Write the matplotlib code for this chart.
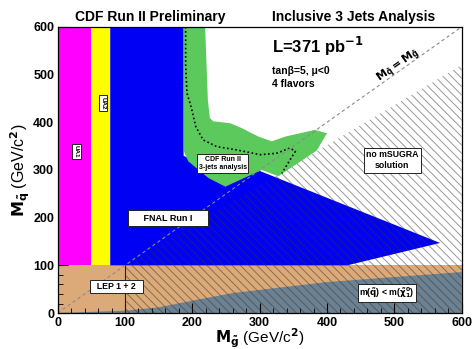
import matplotlib
matplotlib.use('Agg')
import matplotlib.pyplot as plt
from matplotlib.ticker import MultipleLocator

plt.rcParams['font.family'] = ['Liberation Sans', 'DejaVu Sans']
plt.rcParams['font.weight'] = 'bold'
plt.rcParams['mathtext.fontset'] = 'dejavusans'
plt.rcParams['mathtext.default'] = 'bf'
plt.rcParams['hatch.linewidth'] = 0.7

# excluded regions in the (M_gluino, M_squark) plane, GeV/c^2
lep_x = [0, 600, 600, 0]
lep_y = [0, 0, 100, 100]

nosol_low_x = [0, 100, 150, 200, 260, 400, 600, 600]
nosol_low_y = [0, 5, 12, 26, 42, 65, 86, 0]

ua1_x = [0, 50, 50, 0]
ua1_y = [100, 100, 600, 600]

ua2_x = [50, 78, 78, 50]
ua2_y = [100, 100, 600, 600]

fnal_x = [78, 78, 187, 187, 256, 300, 568, 430]
fnal_y = [100, 600, 600, 330, 276, 298, 147, 100]

cdf_x = [187, 219, 223, 226, 231, 256, 273, 298, 318, 338, 382, 400, 385, 328, 303, 249, 224, 194, 187]
cdf_y = [600, 600, 447, 409, 402, 398, 388, 370, 360, 370, 384, 377, 341, 287, 300, 265, 283, 318, 340]

# no mSUGRA solution (hatched)
nomsugra_x = [100, 100, 600, 600]
nomsugra_y = [0, 100, 520, 0]

# expected limit (dotted)
exp_x = [190, 190, 192, 198, 205, 216, 236, 266, 301, 325, 345, 353, 345, 333]
exp_y = [600, 520, 461, 433, 391, 363, 349, 342, 332, 335, 346, 339, 321, 293]

diag = [0, 600]

lep_line_x = [100, 100]
lep_line_y = [0, 100]

fig = plt.figure(figsize=(4.73, 3.49), dpi=100)
ax = fig.add_axes([0.122, 0.103, 0.854, 0.820])

ax.fill(lep_x, lep_y, color='#dcaa78', lw=0, zorder=1)
ax.fill(nosol_low_x, nosol_low_y, color='#6c8292', lw=0, zorder=1.5)
ax.fill(ua1_x, ua1_y, color='#ff00ff', lw=0, zorder=2)
ax.fill(ua2_x, ua2_y, color='#ffff00', lw=0, zorder=2)
ax.fill(fnal_x, fnal_y, color='#0000f5', lw=0, zorder=2)
ax.fill(nomsugra_x, nomsugra_y, facecolor='none', edgecolor=(0.2, 0.2, 0.2, 0.5),
        hatch='\\\\\\\\', lw=0, zorder=3)
ax.fill(cdf_x, cdf_y, color='#5cc95c', lw=0, zorder=4)
ax.plot(lep_line_x, lep_line_y, color='#302010', lw=0.8, zorder=4)
ax.plot(exp_x, exp_y, color='black', ls=(0, (1, 1.5)), lw=1.2, zorder=5)
ax.plot(diag, diag, color='#8a8a8a', ls=(0, (3, 2.5)), lw=0.8, zorder=5)

box = dict(boxstyle='square,pad=0.25', fc='white', ec='#222222', lw=0.7)
ax.text(28, 339, 'UA1', rotation=270, fontsize=4.5, ha='center', va='center', bbox=box, zorder=6)
ax.text(67, 440, 'UA2', rotation=270, fontsize=4.5, ha='center', va='center', bbox=box, zorder=6)
ax.text(164, 199, '     FNAL Run I     ', fontsize=6.5, ha='center', va='center',
        bbox=dict(boxstyle='square,pad=0.35', fc='white', ec='#222222', lw=0.7), zorder=6)
ax.text(245, 314, 'CDF Run II\n3-jets analysis', fontsize=5, ha='center', va='center',
        linespacing=1.3, bbox=box, zorder=6)
ax.text(497, 320, 'no mSUGRA\nsolution', fontsize=6.3, ha='center', va='center',
        linespacing=1.3, bbox=box, zorder=6)
ax.text(87, 56, '  LEP 1 + 2  ', fontsize=6.3, ha='center', va='center', bbox=box, zorder=6)
ax.text(489, 42, r'm($\tilde{q}$) < m($\tilde{\chi}^0_1$)', fontsize=6.3, ha='center',
        va='center', bbox=dict(boxstyle='square,pad=0.15', fc='white', ec='#222222', lw=0.7),
        zorder=6)

ax.text(318, 560, r'L=371 pb$^{-1}$', fontsize=12, ha='left', va='center', zorder=6)
ax.text(318, 508, 'tanβ=5, μ<0', fontsize=7.5, ha='left', va='center', zorder=6)
ax.text(318, 480, '4 flavors', fontsize=7.5, ha='left', va='center', zorder=6)
ax.text(506, 518, r'$M_{\tilde{q}} = M_{\tilde{g}}$', fontsize=8, rotation=35,
        ha='center', va='center', rotation_mode='anchor', zorder=6)

fig.text(0.317, 0.951, 'CDF Run II Preliminary', fontsize=10, ha='center', va='center')
fig.text(0.748, 0.951, 'Inclusive 3 Jets Analysis', fontsize=10, ha='center', va='center')

ax.set_xlim(0, 600)
ax.set_ylim(0, 600)
ax.xaxis.set_major_locator(MultipleLocator(100))
ax.yaxis.set_major_locator(MultipleLocator(100))
ax.xaxis.set_minor_locator(MultipleLocator(20))
ax.yaxis.set_minor_locator(MultipleLocator(20))
ax.tick_params(which='both', direction='in', top=False, right=False, labelsize=9, pad=2.5)
ax.tick_params(which='major', length=7, width=0.8)
ax.tick_params(which='minor', length=3.5, width=0.6)
for lab in ax.get_xticklabels() + ax.get_yticklabels():
    lab.set_fontweight('bold')
for sp in ax.spines.values():
    sp.set_linewidth(0.9)
    sp.set_zorder(7)

ax.set_xlabel(r'$M_{\tilde{g}}$ (GeV/c$^{2}$)', fontsize=11, labelpad=-1)
ax.set_ylabel(r'$M_{\tilde{q}}$ (GeV/c$^{2}$)', fontsize=11.5, labelpad=1)

fig.savefig('out.png', dpi=100)
